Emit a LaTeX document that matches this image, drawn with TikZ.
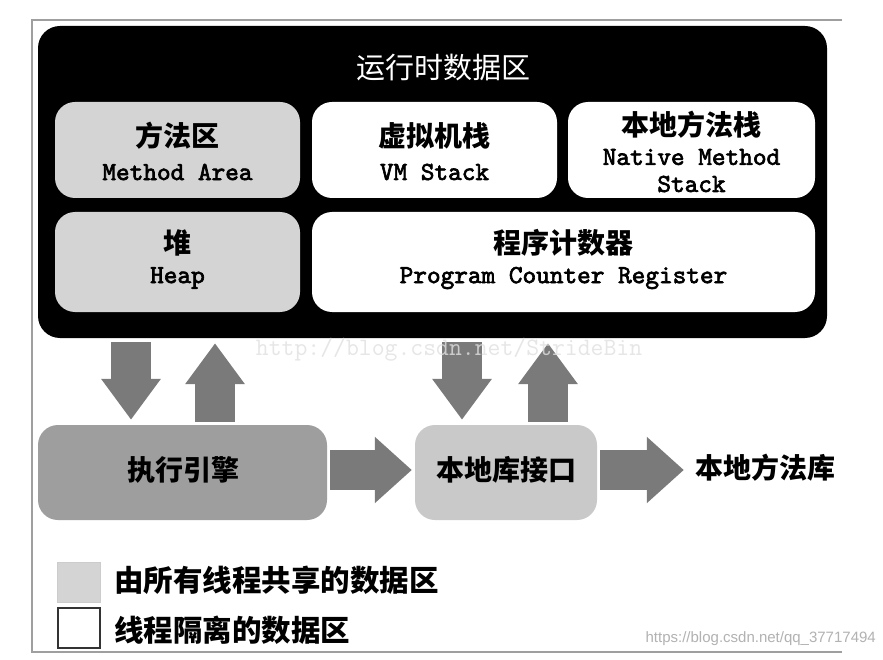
\documentclass[tikz,border=0pt]{standalone}
\usepackage{fontspec}
\setmainfont{Liberation Sans}
\newfontfamily\cjk{Noto Sans CJK SC}
\newfontfamily\enfont[FakeBold=2.5]{lmmono10-regular.otf}
\usetikzlibrary{arrows.meta}
\definecolor{shared}{HTML}{D4D4D4}
\definecolor{engine}{HTML}{9E9E9E}
\definecolor{nativeif}{HTML}{C9C9C9}
\definecolor{arrowgray}{HTML}{7A7A7A}
\tikzset{
  area/.style={rounded corners=20pt, minimum width=#1, inner sep=0pt},
  rowone/.style={area=#1, minimum height=96pt},
  rowtwo/.style={area=#1, minimum height=100pt},
  cnlabel/.style={inner sep=0pt, font=\cjk\bfseries\fontsize{28}{32}\selectfont},
  enlabel/.style={inner sep=0pt, font=\enfont\fontsize{26}{30}\selectfont},
  vfat/.style={draw=arrowgray, line width=40pt, -{Triangle[length=41pt,width=57pt]}},
  hfat/.style={draw=arrowgray, line width=40pt, -{Triangle[length=37pt,width=64pt]}},
  bigcn/.style={inner sep=0pt, font=\cjk\bfseries\fontsize{28}{32}\selectfont},
  legcn/.style={inner sep=0pt, font=\cjk\bfseries\fontsize{29.5}{33}\selectfont},
}
\begin{document}
\begin{tikzpicture}[x=1pt,y=-1pt]
\useasboundingbox (0,0) rectangle (883,660);
\fill[white] (0,0) rectangle (883,660);
% frame
\draw[gray!75, line width=1.3pt] (842,20) -- (32,20) -- (32,652) -- (842,652);
% runtime data area
\node[fill=black, rounded corners=22pt, minimum width=789pt, minimum height=312pt, inner sep=0pt] (rt) at (432.5,182) {};
\node[inner sep=0pt, text=white, font=\cjk\fontsize{29}{33}\selectfont] (title) at (443,68) {运行时数据区};
% row one
\node[rowone=245pt, fill=shared] (ma) at (177.5,150) {};
\node[rowone=245pt, fill=white] (vm) at (434.5,150) {};
\node[rowone=247pt, fill=white] (nm) at (691.5,150) {};
% row two
\node[rowtwo=245pt, fill=shared] (hp) at (177.5,262) {};
\node[rowtwo=503pt, fill=white] (pc) at (563.5,262) {};
% labels
\node[cnlabel] (ma1) at (177.5,136) {方法区};
\node[enlabel] (ma2) at (177.5,172) {Method Area};
\node[cnlabel] (vm1) at (434.5,136) {虚拟机栈};
\node[enlabel] (vm2) at (434.5,172) {VM Stack};
\node[cnlabel] (nm1) at (691.5,125) {本地方法栈};
\node[enlabel] (nm2) at (691.5,157) {Native Method};
\node[enlabel] (nm3) at (691.5,184) {Stack};
\node[cnlabel] (hp1) at (177.5,243) {堆};
\node[enlabel] (hp2) at (177.5,278) {Heap};
\node[cnlabel] (pc1) at (563.5,243) {程序计数器};
\node[enlabel] (pc2) at (563.5,278) {Program Counter Register};
% lower boxes
\node[area=289pt, minimum height=95pt, fill=engine] (ee) at (182.5,472.5) {};
\node[bigcn] (ee1) at (183,470) {执行引擎};
\node[area=182pt, minimum height=95pt, fill=nativeif] (ni) at (506,472.5) {};
\node[bigcn] (ni1) at (506,470) {本地库接口};
\node[bigcn] (nl) at (765,468) {本地方法库};
% arrow positions
\coordinate (xa) at (131,0);
\coordinate (xb) at (215,0);
\coordinate (xc) at (462,0);
\coordinate (xd) at (548,0);
\draw[vfat, shorten <=4pt, shorten >=5pt] (rt.south -| xa) -- (ee.north -| xa);
\draw[vfat, shorten <=3pt, shorten >=5pt] (ee.north -| xb) -- (rt.south -| xb);
\draw[vfat, shorten <=4pt, shorten >=5pt] (rt.south -| xc) -- (ni.north -| xc);
\draw[vfat, shorten <=3pt, shorten >=5pt] (ni.north -| xd) -- (rt.south -| xd);
\coordinate (ya) at (0,470);
\draw[hfat, shorten <=3pt, shorten >=3pt] (ee.east |- ya) -- (ni.west |- ya);
\draw[hfat, shorten <=3pt, shorten >=11pt] (ni.east |- ya) -- (nl.west |- ya);
% watermark
\node[inner sep=0pt, text=black!12, opacity=0.8, font=\ttfamily\fontsize{25}{29}\selectfont] (wm) at (449,350) {http://blog.csdn.net/StrideBin};
% legend
\node[fill=shared, draw=gray!40, line width=0.8pt, minimum width=43pt, minimum height=40pt, inner sep=0pt] (lg1) at (78.5,582) {};
\node[fill=white, draw=black!80, line width=2pt, minimum width=42pt, minimum height=40pt, inner sep=0pt] (lg2) at (79,628) {};
\node[legcn, anchor=west] (lt1) at (114,580) {由所有线程共享的数据区};
\node[legcn, anchor=west] (lt2) at (114,630) {线程隔离的数据区};
\node[inner sep=0pt, anchor=east, text=black!30, font=\fontsize{15}{18}\selectfont] (wm2) at (876,639) {https://blog.csdn.net/qq\_37717494};
\end{tikzpicture}
\end{document}
